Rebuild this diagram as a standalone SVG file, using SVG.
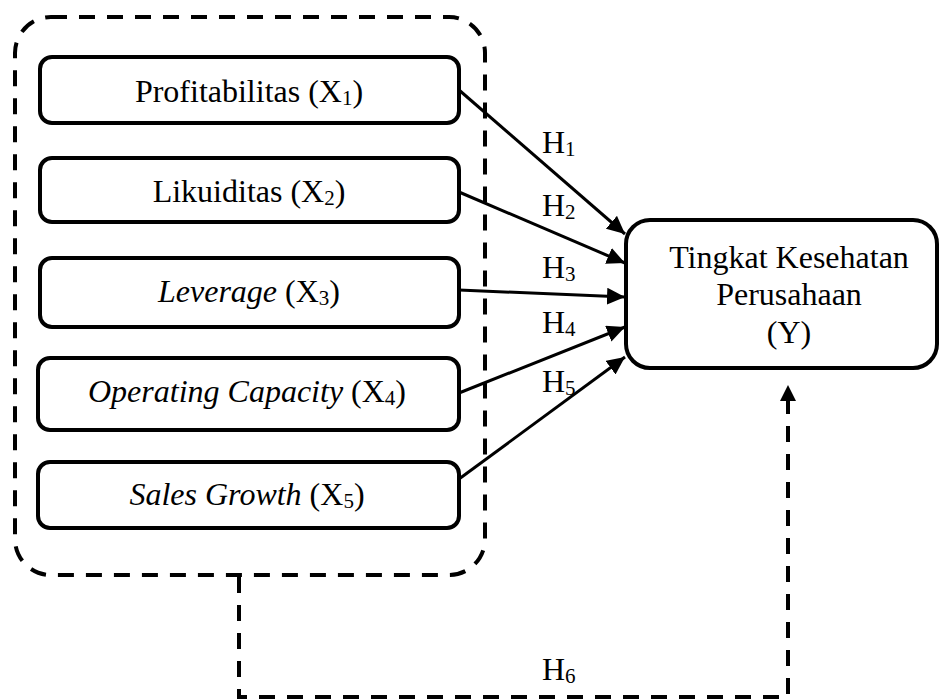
<svg xmlns="http://www.w3.org/2000/svg" width="941" height="700" viewBox="0 0 941 700">
<style>
  .box { fill: #fff; stroke: #000; stroke-width: 4; }
  .dash { fill: none; stroke: #000; stroke-width: 4; stroke-dasharray: 16 12; }
  .arrow { fill: none; stroke: #000; stroke-width: 3; marker-end: url(#ah); }
  text { font-family: "Liberation Serif", "Times New Roman", serif; font-size: 32px; fill: #000; }
  .c { text-anchor: middle; }
  .i { font-style: italic; }
  .sub { font-size: 21px; }
</style>
<defs>
  <marker id="ah" markerUnits="userSpaceOnUse" markerWidth="19" markerHeight="17" refX="18" refY="8.5" orient="auto">
    <path d="M0,0 L18,8.5 L0,17 Z" fill="#000"/>
  </marker>
</defs>

<g id="group-x">
  <rect class="dash" x="15" y="17" width="470" height="558" rx="36" ry="36"/>
</g>

<g id="x1">
  <rect class="box" x="40" y="57" width="419" height="66" rx="12" ry="12"/>
  <text class="c" x="249" y="102">Profitabilitas (X<tspan class="sub" dy="3">1</tspan><tspan dy="-3">)</tspan></text>
</g>
<g id="x2">
  <rect class="box" x="40" y="158" width="419" height="64" rx="12" ry="12"/>
  <text class="c" x="249" y="202">Likuiditas (X<tspan class="sub" dy="3">2</tspan><tspan dy="-3">)</tspan></text>
</g>
<g id="x3">
  <rect class="box" x="40" y="258" width="419" height="69" rx="12" ry="12"/>
  <text class="c" x="249" y="302"><tspan class="i">Leverage</tspan> (X<tspan class="sub" dy="3">3</tspan><tspan dy="-3">)</tspan></text>
</g>
<g id="x4">
  <rect class="box" x="38" y="358" width="421" height="72" rx="12" ry="12"/>
  <text class="c" x="247" y="402"><tspan class="i">Operating Capacity</tspan> (X<tspan class="sub" dy="3">4</tspan><tspan dy="-3">)</tspan></text>
</g>
<g id="x5">
  <rect class="box" x="38" y="462" width="421" height="66" rx="12" ry="12"/>
  <text class="c" x="247" y="505"><tspan class="i">Sales Growth</tspan> (X<tspan class="sub" dy="3">5</tspan><tspan dy="-3">)</tspan></text>
</g>

<g id="y">
  <rect class="box" x="626" y="220" width="311" height="148" rx="24" ry="24"/>
  <text class="c" x="789" y="268">Tingkat Kesehatan</text>
  <text class="c" x="789" y="305">Perusahaan</text>
  <text class="c" x="789" y="343">(Y)</text>
</g>

<g id="connectors">
  <path class="arrow" d="M459,90 L625,234"/>
  <path class="arrow" d="M459,192 L625,263"/>
  <path class="arrow" d="M459,290 L625,297"/>
  <path class="arrow" d="M459,393 L625,327"/>
  <path class="arrow" d="M459,479 L625,357"/>
  <path class="dash" d="M239,577 L239,697 L788,697 L788,400"/>
  <path d="M780,401 L788,385 L796,401 Z" fill="#000"/>
</g>

<g id="labels">
  <text x="542" y="153">H<tspan class="sub" dy="3">1</tspan></text>
  <text x="542" y="216">H<tspan class="sub" dy="3">2</tspan></text>
  <text x="542" y="278">H<tspan class="sub" dy="3">3</tspan></text>
  <text x="542" y="333">H<tspan class="sub" dy="3">4</tspan></text>
  <text x="542" y="392">H<tspan class="sub" dy="3">5</tspan></text>
  <text x="542" y="680">H<tspan class="sub" dy="3">6</tspan></text>
</g>
</svg>
